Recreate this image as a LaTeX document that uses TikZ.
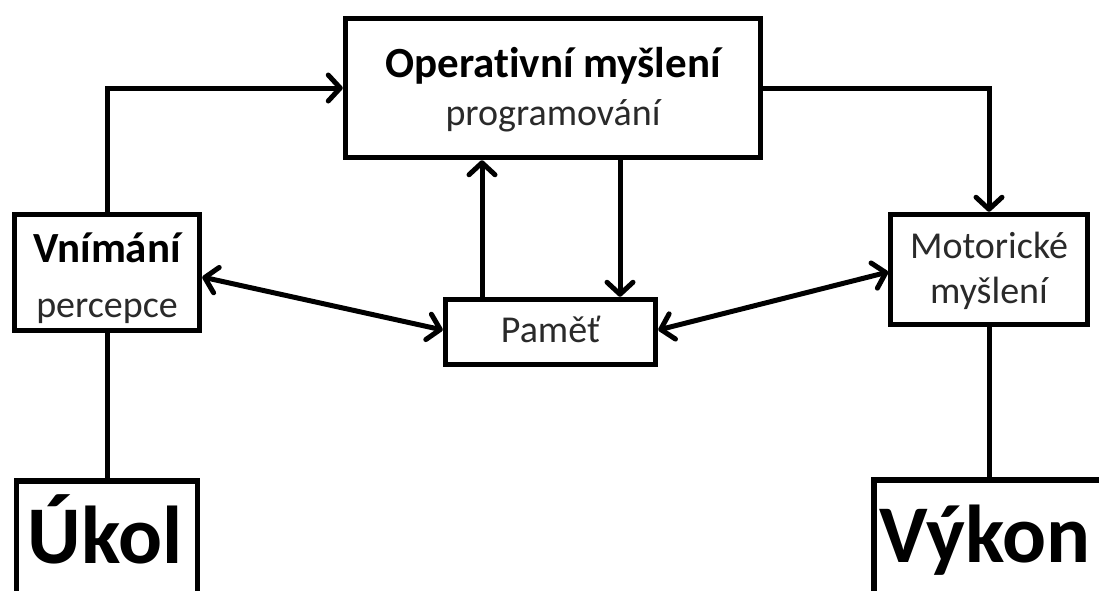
\documentclass[tikz,border=0pt]{standalone}
\usepackage{fontspec}
\setmainfont{Carlito}[Ligatures=NoCommon]
\usetikzlibrary{arrows.meta,calc}
\definecolor{txtgray}{HTML}{2A2A2A}
\begin{document}
\begin{tikzpicture}[x=1pt,y=-1pt,
  box/.style={draw, line width=5.5pt, rectangle, inner sep=0pt, align=center},
  conn/.style={line width=5pt},
  barb/.tip={Straight Barb[length=12pt,width=26pt,line width=5pt,round]},
  arr/.style={conn, -barb},
  darr/.style={conn, barb-barb},
  tb/.style={anchor=base, inner sep=0pt, font=\fontsize{43}{48}\selectfont\bfseries},
  tr/.style={anchor=base, inner sep=0pt, font=\fontsize{38}{45}\selectfont, text=txtgray},
  big/.style={anchor=base, inner sep=0pt, font=\fontsize{82}{90}\selectfont\bfseries}]
\useasboundingbox (0,0) rectangle (1099,590);
\fill[white] (0,0) rectangle (1099,590);

\node[box, minimum width=415pt, minimum height=139pt] (op) at (553,88) {};
\node[tb] (opt) at (553,77) {Operativní myšlení};
\node[tr] (ops) at (553,125) {programování};

\node[box, minimum width=185pt, minimum height=116pt] (vn) at (107,272.5) {};
\node[tb] (vnt) at (107,262) {Vnímání};
\node[tr] (vns) at (107,317) {percepce};

\node[box, minimum width=210pt, minimum height=65pt] (pa) at (550.5,332) {};
\node[tr] (pat) at (550.5,342) {Paměť};

\node[box, minimum width=197pt, minimum height=110pt] (mo) at (989,269.5) {};
\node[tr] (mot) at (989,258) {Motorické};
\node[tr] (mos) at (989,303) {myšlení};

\node[box, minimum width=181pt, minimum height=120pt] (uk) at (107,541) {};
\node[big] (ukt) at (105,563) {Úkol};

\node[box, minimum width=230pt, minimum height=120pt] (vy) at (989,540) {};
\node[big] (vyt) at (985,562) {Výkon};

\draw[arr] (vn.north) |- (op.west);
\draw[arr] (op.east) -| (mo.north);
\draw[arr] (pa.north -| 482,0) -- (op.south -| 482,0);
\draw[arr] (op.south -| 620,0) -- (pa.north -| 620,0);
\draw[darr] ($(vn.east)+(0,4.5)$) -- ($(pa.west)+(0,-2)$);
\draw[darr] ($(pa.east)+(0,-2)$) -- ($(mo.east)+(-202,2.5)$);
\draw[conn] (vn.south) -- (uk.north);
\draw[conn] (mo.south) -- (vy.north);
\end{tikzpicture}
\end{document}
